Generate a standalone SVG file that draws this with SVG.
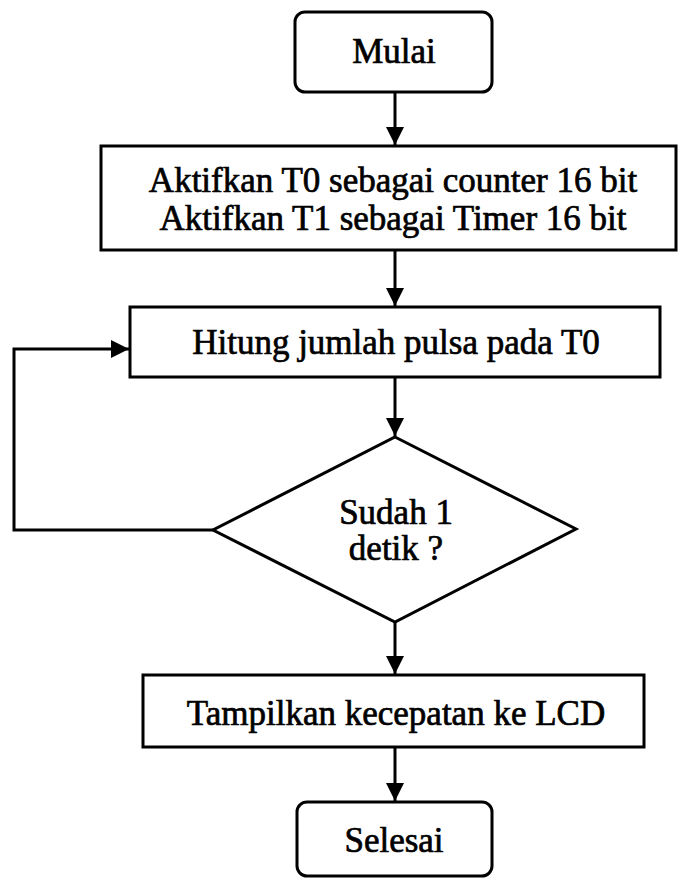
<svg xmlns="http://www.w3.org/2000/svg" width="678" height="878" viewBox="0 0 678 878">
  <style>
    .shape { fill: #ffffff; stroke: #000000; stroke-width: 3; }
    .label { font-family: "Liberation Serif", "Times New Roman", serif; font-size: 35px; fill: #000000; stroke: #000000; stroke-width: 0.7; text-anchor: middle; }
    .link { fill: none; stroke: #000000; stroke-width: 3; }
  </style>
  <defs>
    <marker id="arrow" viewBox="0 0 10 10" refX="10" refY="5" markerWidth="6" markerHeight="6" markerUnits="strokeWidth" orient="auto">
      <path d="M0,0 L10,5 L0,10 Z" fill="#000000"/>
    </marker>
  </defs>
  <rect width="678" height="878" fill="#ffffff"/>

  <!-- connectors -->
  <g id="connectors">
    <line class="link" x1="395" y1="92" x2="395" y2="145" marker-end="url(#arrow)"/>
    <line class="link" x1="395" y1="250" x2="395" y2="306" marker-end="url(#arrow)"/>
    <line class="link" x1="395" y1="377" x2="395" y2="436" marker-end="url(#arrow)"/>
    <line class="link" x1="395" y1="622" x2="395" y2="674" marker-end="url(#arrow)"/>
    <line class="link" x1="395" y1="747" x2="395" y2="801" marker-end="url(#arrow)"/>
    <polyline class="link" points="213,530 14,530 14,349 129,349" marker-end="url(#arrow)"/>
  </g>

  <!-- start -->
  <g id="start">
    <rect class="shape" x="295" y="12" width="197" height="80" rx="10" ry="10"/>
    <text class="label" x="394" y="63">Mulai</text>
  </g>

  <!-- timer setup -->
  <g id="setup">
    <rect class="shape" x="101" y="146" width="575" height="104"/>
    <text class="label" x="393" y="192">Aktifkan T0 sebagai counter 16 bit</text>
    <text class="label" x="393" y="230">Aktifkan T1 sebagai Timer 16 bit</text>
  </g>

  <!-- pulse count -->
  <g id="count">
    <rect class="shape" x="130" y="307" width="530" height="70"/>
    <text class="label" x="396" y="354">Hitung jumlah pulsa pada T0</text>
  </g>

  <!-- one second check -->
  <g id="decision">
    <polygon class="shape" points="395,437 576,529 395,622 213,530"/>
    <text class="label" x="396" y="524">Sudah 1</text>
    <text class="label" x="396" y="560">detik ?</text>
  </g>

  <!-- show speed -->
  <g id="display">
    <rect class="shape" x="143" y="675" width="501" height="72"/>
    <text class="label" x="396" y="725">Tampilkan kecepatan ke LCD</text>
  </g>

  <!-- end -->
  <g id="end">
    <rect class="shape" x="297" y="802" width="195" height="74" rx="10" ry="10"/>
    <text class="label" x="394" y="852">Selesai</text>
  </g>
</svg>
